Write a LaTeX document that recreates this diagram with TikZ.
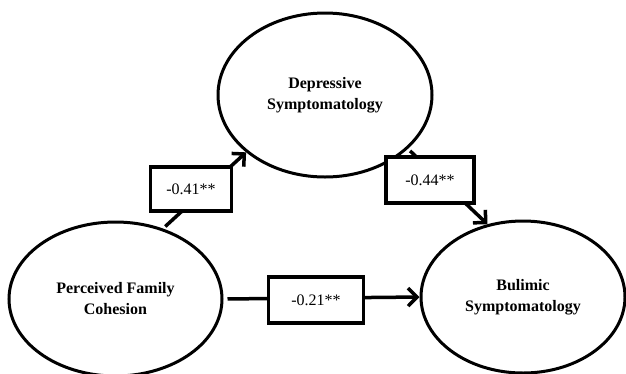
\documentclass[tikz,border=0pt]{standalone}
\usepackage{fontspec}
\setmainfont{Liberation Serif}
\usetikzlibrary{shapes.geometric, arrows.meta, positioning}

\tikzset{
  construct/.style={draw, ellipse, line width=3pt, inner sep=0pt, align=center,
    font=\fontsize{16}{21}\selectfont\bfseries},
  coefbox/.style={draw, fill=white, line width=3.5pt, inner sep=0pt,
    font=\fontsize{16}{20}\selectfont},
  path/.style={line width=3.5pt, -{Straight Barb[length=9pt,width=18pt]}}
}

\begin{document}
\begin{tikzpicture}[x=1pt,y=-1pt]
\useasboundingbox (0,0) rectangle (626,373);

% Constructs
\node[construct, minimum width=213pt, minimum height=154pt] (pfc) at (115.5,299) {Perceived Family\\Cohesion};
\node[construct, minimum width=214pt, minimum height=164pt] (dep) at (325,95) {Depressive\\Symptomatology};
\node[construct, minimum width=204pt, minimum height=152pt] (bul) at (523,297) {Bulimic\\Symptomatology};

% Paths
\draw[path, shorten <=3pt] (pfc.56) -- (dep.216);
\draw[path, shorten <=3pt] (dep.327) -- (bul.116);
\draw[path, shorten <=4pt] (pfc.east) -- (bul.west);

% Coefficients
\node[coefbox, minimum width=81pt, minimum height=44pt] (a) at (191,189) {-0.41**};
\node[coefbox, minimum width=88pt, minimum height=46pt] (b) at (430,180) {-0.44**};
\node[coefbox, minimum width=95pt, minimum height=46pt] (c) at (316,300) {-0.21**};
\end{tikzpicture}
\end{document}
